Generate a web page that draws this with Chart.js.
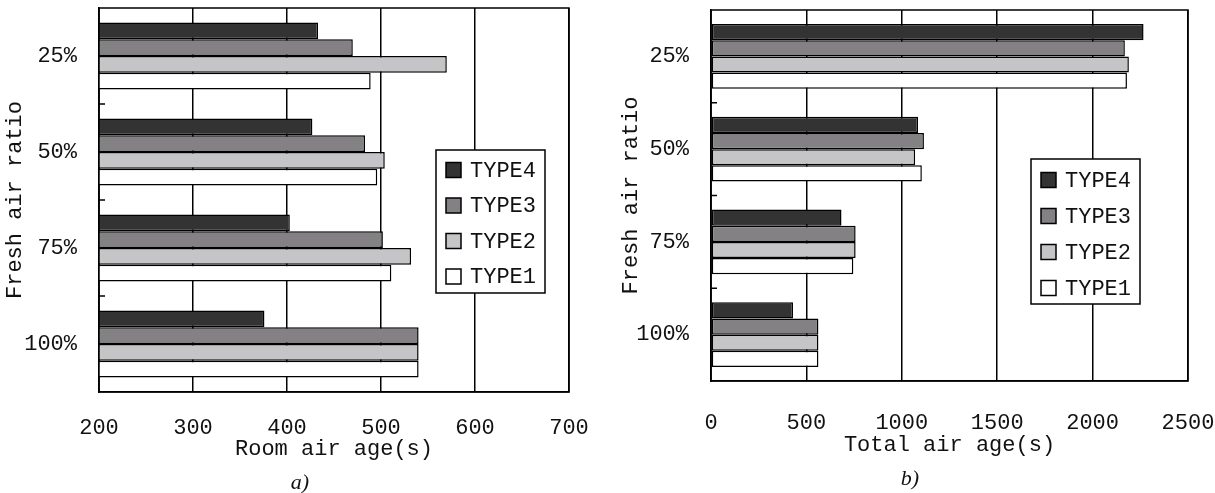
<!DOCTYPE html>
<html>
<head>
<meta charset="utf-8">
<script src="https://cdn.jsdelivr.net/npm/chart.js@4/dist/chart.umd.min.js"></script>
<style>
  body { margin: 0; background: #fff; }
  #wrap { position: relative; width: 1215px; height: 493px; }
  canvas { position: absolute; top: 0; }
  .cap { position: absolute; font: italic 22px "Liberation Serif", serif; color: #111; transform: translate(-50%, -50%); }
</style>
</head>
<body>
<div id="wrap">
  <canvas id="roomChart" width="600" height="493" style="left:0"></canvas>
  <canvas id="totalChart" width="615" height="493" style="left:600px"></canvas>
  <div class="cap" style="left:300px; top:482px">a)</div>
  <div class="cap" style="left:910px; top:478px">b)</div>
</div>
<script>
// categories (top to bottom) and series
const ratios = ['25%', '50%', '75%', '100%'];
const types = ['TYPE4', 'TYPE3', 'TYPE2', 'TYPE1'];
const fills = ['#333333', '#838183', '#c5c4c6', '#ffffff'];

const roomType4 = [433, 427, 403, 376];
const roomType3 = [470, 483, 502, 540];
const roomType2 = [570, 504, 532, 540];
const roomType1 = [489, 496, 511, 540];

const totalType4 = [2267, 1085, 684, 430];
const totalType3 = [2169, 1116, 758, 563];
const totalType2 = [2190, 1070, 758, 563];
const totalType1 = [2180, 1105, 746, 563];

const roomAxis = { min: 200, max: 700, step: 100 };
const totalAxis = { min: 0, max: 2500, step: 500 };

Chart.defaults.font.family = '"Liberation Mono", monospace';
Chart.defaults.font.size = 22;
Chart.defaults.color = '#111';

// box around the plot + small inward marks between the groups
const frame = {
    id: 'frame',
    afterDraw(chart) {
        const { ctx, chartArea: a } = chart;
        const y = chart.scales.y;
        ctx.save();
        ctx.strokeStyle = '#000';
        ctx.lineWidth = 1.5;
        ctx.strokeRect(a.left, a.top, a.width, a.height);
        ctx.beginPath();
        for (let i = 1; i < y.ticks.length; i++) {
            const py = (y.getPixelForTick(i - 1) + y.getPixelForTick(i)) / 2;
            ctx.moveTo(a.left, py);
            ctx.lineTo(a.left + 6, py);
        }
        ctx.stroke();
        ctx.restore();
    }
};

// legend box sitting inside the plot
const boxLegend = {
    id: 'boxLegend',
    afterDraw(chart, args, opts) {
        const { ctx } = chart;
        ctx.save();
        ctx.fillStyle = '#fff';
        ctx.fillRect(opts.left, opts.top, opts.width, opts.height);
        ctx.strokeStyle = '#000';
        ctx.lineWidth = 1.5;
        ctx.strokeRect(opts.left, opts.top, opts.width, opts.height);
        ctx.font = '22px "Liberation Mono", monospace';
        ctx.textBaseline = 'middle';
        chart.data.datasets.forEach((ds, i) => {
            const cy = opts.top + opts.firstRow + i * opts.rowGap;
            ctx.fillStyle = ds.backgroundColor;
            ctx.fillRect(opts.left + 10, cy - 7.5, 15, 15);
            ctx.strokeRect(opts.left + 10, cy - 7.5, 15, 15);
            ctx.fillStyle = '#111';
            ctx.fillText(ds.label, opts.left + 34, cy + 1);
        });
        ctx.restore();
    }
};

function makeChart(id, series, axis, cfg) {
    const ctx = document.getElementById(id).getContext('2d');
    return new Chart(ctx, {
        type: 'bar',
        data: {
            labels: ratios,
            datasets: series.map((values, i) => ({
                label: types[i],
                data: values,
                backgroundColor: fills[i],
                borderColor: '#000',
                borderWidth: 1.5,
                borderSkipped: false,
                barPercentage: 1,
                categoryPercentage: 0.7
            }))
        },
        options: {
            indexAxis: 'y',
            responsive: false,
            animation: false,
            devicePixelRatio: 1,
            layout: { padding: { top: cfg.top, right: cfg.right, left: 0, bottom: 0 } },
            plugins: {
                legend: { display: false },
                tooltip: { enabled: false },
                boxLegend: cfg.legend
            },
            scales: {
                x: {
                    type: 'linear',
                    min: axis.min,
                    max: axis.max,
                    ticks: { stepSize: axis.step, padding: cfg.tickPad, maxRotation: 0, callback: v => String(v) },
                    grid: { color: '#000', lineWidth: 1.5, drawTicks: false },
                    border: { display: true, color: '#000', width: 1.5 },
                    title: { display: true, text: cfg.xTitle, padding: { top: 0, bottom: cfg.titlePad } },
                    afterFit(scale) {
                        scale.height = cfg.xHeight;
                        scale.paddingLeft = 0;
                        scale.paddingRight = 0;
                    }
                },
                y: {
                    grid: { display: false, drawTicks: false },
                    border: { display: true, color: '#000', width: 1.5 },
                    ticks: { padding: 22 },
                    title: { display: true, text: 'Fresh air ratio', padding: { top: cfg.yTitlePad, bottom: 0 } },
                    afterFit(scale) {
                        scale.width = cfg.yWidth;
                        scale.paddingTop = 0;
                        scale.paddingBottom = 0;
                    }
                }
            }
        },
        plugins: [frame, boxLegend]
    });
}

makeChart('roomChart', [roomType4, roomType3, roomType2, roomType1], roomAxis, {
    top: 8, right: 31, xHeight: 101, yWidth: 99,
    tickPad: 23, titlePad: 31, yTitlePad: 2,
    xTitle: 'Room air age(s)',
    legend: { left: 436, top: 150, width: 109, height: 143, firstRow: 20, rowGap: 35.5 }
});

makeChart('totalChart', [totalType4, totalType3, totalType2, totalType1], totalAxis, {
    top: 10, right: 27, xHeight: 112, yWidth: 111,
    tickPad: 29, titlePad: 35, yTitlePad: 18,
    xTitle: 'Total air age(s)',
    legend: { left: 431, top: 159, width: 109, height: 145, firstRow: 21, rowGap: 36 }
});
</script>
</body>
</html>
